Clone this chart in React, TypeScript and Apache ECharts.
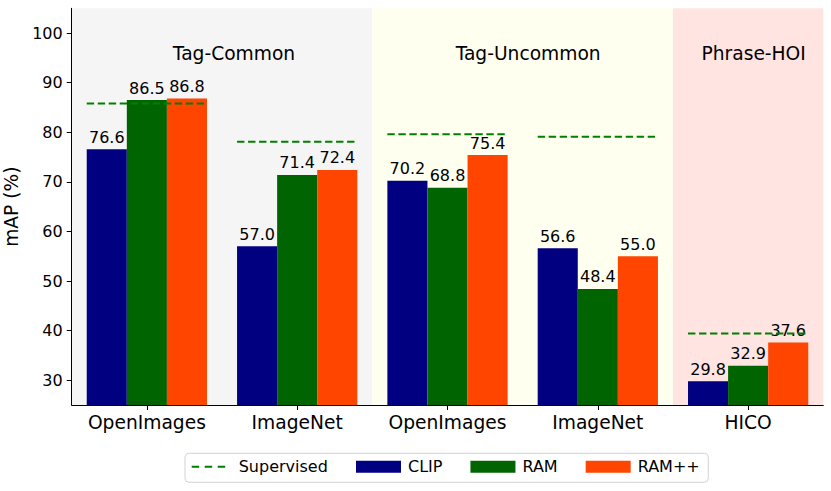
import React, { useEffect, useRef } from 'react';
import * as echarts from 'echarts';

const categories = ['OpenImages', 'ImageNet', 'OpenImages', 'ImageNet', 'HICO'];
const clipValues = [76.6, 57.0, 70.2, 56.6, 29.8];
const ramValues = [86.5, 71.4, 68.8, 48.4, 32.9];
const ramPlusValues = [86.8, 72.4, 75.4, 55.0, 37.6];
const supervisedValues = [85.8, 78.1, 79.6, 79.1, 39.4];
const yTicks = [30, 40, 50, 60, 70, 80, 90, 100];
const regionNames = ['Tag-Common', 'Tag-Uncommon', 'Phrase-HOI'];
const regionStarts = [-0.5, 1.5, 3.5];
const regionEnds = [1.5, 3.5, 4.5];

// styles
const regionColors = ['#F5F5F5', '#FFFFF0', '#FFE4E1'];
const regionTitleOffsets = [12, 5.5, 5.5];
const FONT = 'DejaVu Sans';
const SUP_HALF = 0.4;

export default function App() {
  const ref = useRef<HTMLDivElement>(null);

  useEffect(() => {
    document.body.style.margin = '0';
    if (!ref.current) return;
    const chart = echarts.init(ref.current, undefined, { renderer: 'svg' });

    const supData: any[] = [];
    supervisedValues.forEach((v, i) => {
      supData.push([i - SUP_HALF, v], [i + SUP_HALF, v], [i + 0.5, '-']);
    });

    const areaData = regionNames.map((name, i) => [
      {
        xAxis: regionStarts[i],
        name,
        itemStyle: { color: regionColors[i] },
        label: {
          show: true,
          position: 'insideTop',
          distance: 36,
          offset: [regionTitleOffsets[i], 0],
          fontSize: 18.67,
          color: '#000',
          fontFamily: FONT,
        },
      },
      { xAxis: regionEnds[i] },
    ]);

    const barLabel = {
      show: true,
      position: 'top',
      distance: 4,
      fontSize: 16,
      color: '#000',
      fontFamily: FONT,
      formatter: (p: any) => Number(p.value).toFixed(1),
    };

    const option: any = {
      animation: false,
      textStyle: { fontFamily: FONT },
      grid: {
        left: 71.7,
        right: 7.7,
        top: 8.3,
        bottom: 86,
        containLabel: false,
        outerBoundsMode: 'none',
      },
      legend: [
        {
          data: ['Supervised'],
          left: 190.7,
          top: 458.7,
          padding: 0,
          itemWidth: 34,
          itemHeight: 12,
          itemStyle: { opacity: 0 },
          lineStyle: { color: '#008000', width: 2, type: [7.5, 5.5] },
          textStyle: { fontSize: 16, color: '#000', fontFamily: FONT, padding: [0, 0, 0, 8] },
          selectedMode: false,
        },
        {
          data: ['CLIP', 'RAM', 'RAM++'],
          left: 356,
          top: 458.7,
          padding: 0,
          itemWidth: 45,
          itemHeight: 12,
          itemGap: 28,
          icon: 'rect',
          textStyle: { fontSize: 16, color: '#000', fontFamily: FONT, padding: [0, 0, 0, 2] },
          selectedMode: false,
        },
      ],
      graphic: [
        {
          type: 'rect',
          z: 0,
          shape: { x: 185, y: 453.3, width: 523.3, height: 29, r: 4 },
          style: { fill: '#fff', stroke: '#d3d3d3', lineWidth: 1 },
        },
      ],
      xAxis: [
        {
          type: 'category',
          data: categories,
          z: 5,
          axisLine: { show: true, onZero: false, lineStyle: { color: '#000', width: 1 } },
          axisTick: { show: true, alignWithLabel: true, length: 5, lineStyle: { color: '#000' } },
          axisLabel: { interval: 0, fontSize: 18.67, color: '#000', margin: 8, fontFamily: FONT },
          splitLine: { show: false },
        },
        {
          type: 'value',
          min: -0.5,
          max: 4.5,
          show: false,
          axisLine: { show: false, onZero: false },
          splitLine: { show: false },
        },
      ],
      yAxis: {
        type: 'value',
        min: 25,
        max: 105,
        z: 5,
        name: 'mAP (%)',
        nameLocation: 'middle',
        nameGap: 46,
        nameTextStyle: { fontSize: 18.67, color: '#000', fontFamily: FONT },
        axisLine: { show: true, onZero: false, lineStyle: { color: '#000', width: 1 } },
        axisTick: { show: true, length: 5, customValues: yTicks, lineStyle: { color: '#000' } },
        axisLabel: { fontSize: 16, color: '#000', margin: 9, customValues: yTicks, fontFamily: FONT },
        splitLine: { show: false },
      },
      series: [
        {
          type: 'line',
          name: 'bg',
          xAxisIndex: 1,
          z: 0,
          data: [],
          silent: true,
          markArea: { silent: true, data: areaData },
        },
        {
          type: 'bar',
          name: 'CLIP',
          data: clipValues,
          z: 2,
          barGap: '0%',
          barCategoryGap: '20%',
          itemStyle: { color: '#000080' },
          label: barLabel,
        },
        {
          type: 'bar',
          name: 'RAM',
          data: ramValues,
          z: 2,
          barGap: '0%',
          barCategoryGap: '20%',
          itemStyle: { color: '#006400' },
          label: barLabel,
        },
        {
          type: 'bar',
          name: 'RAM++',
          data: ramPlusValues,
          z: 2,
          barGap: '0%',
          barCategoryGap: '20%',
          itemStyle: { color: '#FF4500' },
          label: barLabel,
        },
        {
          type: 'line',
          name: 'Supervised',
          xAxisIndex: 1,
          z: 3,
          data: supData,
          symbol: 'none',
          connectNulls: false,
          itemStyle: { color: '#008000' },
          lineStyle: { color: '#008000', width: 2, type: [7.4, 3.6] },
        },
      ],
    };

    chart.setOption(option);
    return () => chart.dispose();
  }, []);

  return <div ref={ref} style={{ width: 831, height: 491 }} />;
}
